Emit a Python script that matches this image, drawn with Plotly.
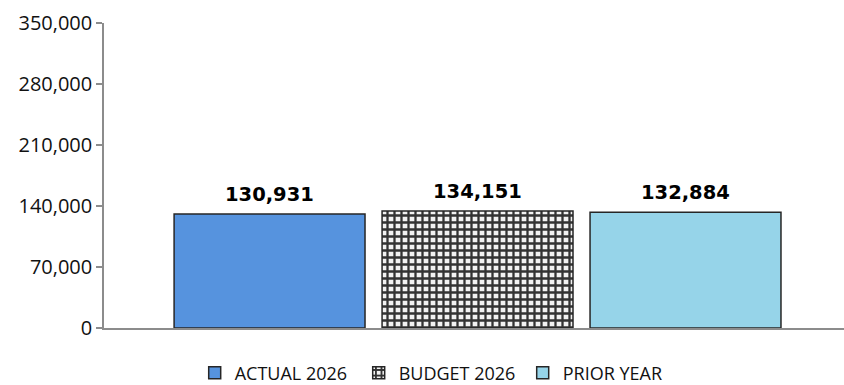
import plotly.graph_objects as go

series = ["ACTUAL 2026", "BUDGET 2026", "PRIOR YEAR"]
values = [130931, 134151, 132884]
y_ticks = [0, 70000, 140000, 210000, 280000, 350000]
y_tick_labels = ["0", "70,000", "140,000", "210,000", "280,000", "350,000"]

colors = ["#5693DE", "#9a9a9a", "#96D4E9"]

fig = go.Figure()
for i, (name, val) in enumerate(zip(series, values)):
    marker = dict(color=colors[i], line=dict(color="#262626", width=1.5))
    if name == "BUDGET 2026":
        marker["pattern"] = dict(shape="+", fgcolor="#333333", bgcolor="#f2f2f2",
                                 size=7, solidity=0.55, fillmode="replace")
    fig.add_trace(go.Bar(
        x=[name], y=[val], name=name, width=0.918,
        marker=marker,
    ))
    fig.add_annotation(
        x=name, y=val, text=f"<b>{val:,}</b>", showarrow=False,
        yanchor="bottom", yshift=6,
        font=dict(family="DejaVu Sans", size=19.5, color="#000000"),
    )

fig.update_layout(
    width=844, height=385,
    margin=dict(l=104, r=0, t=23, b=57),
    paper_bgcolor="white", plot_bgcolor="white",
    barmode="overlay",
    showlegend=True,
    legend=dict(orientation="h", xref="paper", x=0.455, xanchor="center",
                yref="container", y=0.079, yanchor="top",
                font=dict(family="Open Sans", size=18, color="#111111"),
                entrywidth=119, entrywidthmode="pixels", traceorder="normal"),
    font=dict(family="Open Sans", size=16, color="#222222"),
)
fig.update_xaxes(range=[-0.796, 2.762], showticklabels=False, showgrid=False,
                 showline=True, linecolor="#8c8c8c", linewidth=1.5, ticks="", zeroline=False)
fig.update_yaxes(range=[0, 350000], tickvals=y_ticks, ticktext=y_tick_labels,
                 showgrid=False, showline=True, linecolor="#8c8c8c", linewidth=1.5,
                 ticks="outside", ticklen=6, tickcolor="#8c8c8c", tickwidth=1.5,
                 zeroline=False, tickfont=dict(family="Open Sans", size=20, color="#111111"),
                 ticklabelstandoff=0)

fig.write_html("out.html")
